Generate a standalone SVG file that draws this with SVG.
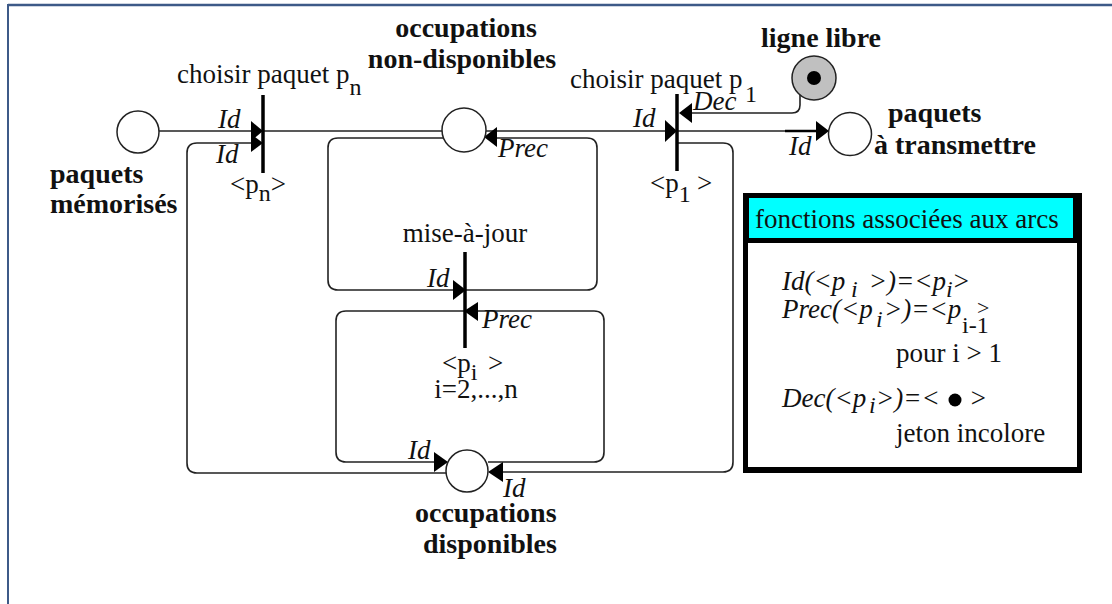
<svg xmlns="http://www.w3.org/2000/svg" width="1112" height="604" viewBox="0 0 1112 604">
<style>
text{font-family:"Liberation Serif","Times New Roman",serif;fill:#111}
.r{font-size:27px}
.b{font-size:28px;font-weight:bold}
.i{font-size:27px;font-style:italic}
.s{font-size:24px}
.place{fill:#fff;stroke:#222;stroke-width:1.5}
.bar{stroke:#000;stroke-width:3.5}
.arc{fill:none;stroke:#222;stroke-width:1.6}
.head{fill:#000}
</style>
<rect width="1112" height="604" fill="#fff"/>
<g id="frame">
<line x1="8" y1="5" x2="1112" y2="5" stroke="#3d5a88" stroke-width="2.5"/>
<line x1="8" y1="4" x2="8" y2="604" stroke="#3d5a88" stroke-width="2"/>
</g>
<g id="connectors">
<path class="arc" d="M159 131 H252"/>
<path class="arc" d="M263 131 H443"/>
<path class="arc" d="M486 131 H666"/>
<path class="arc" d="M677 131 H817"/>
<path d="M785 131 H817" stroke="#000" stroke-width="2.5"/>
<path class="arc" d="M800 95 V105 Q800 113 792 113 H692"/>
<path class="arc" d="M251 143 H197 Q187 143 187 153 V463 Q187 473 197 473 H446"/>
<path class="arc" d="M677 143 H723 Q733 143 733 153 V462 Q733 472 723 472 H503"/>
<path class="arc" d="M443 138 H338 Q328 138 328 148 V280 Q328 290 338 290 H453"/>
<path class="arc" d="M466 290 H587 Q597 290 597 280 V148 Q597 138 587 138 H497"/>
<path class="arc" d="M478 311 H594 Q604 311 604 321 V452 Q604 462 594 462 H488"/>
<path class="arc" d="M465 311 H346 Q336 311 336 321 V452 Q336 462 346 462 H434"/>
<polygon class="head" points="263,131 251,121 251,141"/>
<polygon class="head" points="263,143 251,134 251,152"/>
<polygon class="head" points="677,131 665,120 665,142"/>
<polygon class="head" points="679,113 692,103 692,123"/>
<polygon class="head" points="829,131 816,121 816,141"/>
<polygon class="head" points="484,137 497,127 497,147"/>
<polygon class="head" points="466,290 453,280 453,300"/>
<polygon class="head" points="464,311 478,302 478,321"/>
<polygon class="head" points="448,462 434,452 434,472"/>
<polygon class="head" points="488,472 503,462 503,482"/>
<text class="i" x="218" y="128">Id</text>
<text class="i" x="216" y="163">Id</text>
<text class="i" x="498" y="157">Prec</text>
<text class="i" x="633" y="127">Id</text>
<text class="i" x="693" y="110">Dec</text>
<text class="i" x="789" y="155">Id</text>
<text class="i" x="427" y="287">Id</text>
<text class="i" x="482" y="328">Prec</text>
<text class="i" x="408" y="459">Id</text>
<text class="i" x="503" y="497">Id</text>
</g>
<g id="paquets-memorises">
<circle class="place" cx="138" cy="132" r="21"/>
<text class="b" x="50" y="183">paquets</text>
<text class="b" x="50" y="213">mémorisés</text>
</g>
<g id="occupations-non-disponibles">
<circle class="place" cx="464" cy="130" r="22"/>
<text class="b" x="466" y="37" text-anchor="middle">occupations</text>
<text class="b" x="462" y="68" text-anchor="middle">non-disponibles</text>
</g>
<g id="ligne-libre">
<circle cx="814" cy="78" r="22" fill="#c0c0c0" stroke="#222" stroke-width="1.5"/>
<circle cx="814" cy="78" r="7" fill="#000"/>
<text class="b" x="761" y="47">ligne libre</text>
</g>
<g id="paquets-a-transmettre">
<circle class="place" cx="850" cy="134" r="21.5"/>
<text class="b" x="888" y="122">paquets</text>
<text class="b" x="874" y="154">à transmettre</text>
</g>
<g id="occupations-disponibles">
<circle class="place" cx="467" cy="471" r="21"/>
<text class="b" x="415" y="522">occupations</text>
<text class="b" x="423" y="553">disponibles</text>
</g>
<g id="choisir-pn">
<line class="bar" x1="263" y1="95" x2="263" y2="173"/>
<text class="r" x="177" y="83">choisir paquet p<tspan class="s" dy="12">n</tspan></text>
<text class="r" x="230" y="193">&lt;p<tspan class="s" dy="8">n</tspan><tspan dy="-8">&gt;</tspan></text>
</g>
<g id="choisir-p1">
<line class="bar" x1="677" y1="94" x2="677" y2="171"/>
<text class="r" x="570" y="88">choisir paquet p<tspan class="s" x="745" dy="14">1</tspan></text>
<text class="r" x="650" y="192">&lt;p<tspan class="s" dy="10">1</tspan><tspan x="697" dy="-10">&gt;</tspan></text>
</g>
<g id="mise-a-jour">
<line class="bar" x1="465" y1="252" x2="465" y2="348"/>
<text class="r" x="465" y="242" text-anchor="middle">mise-à-jour</text>
<text class="r" x="442" y="372">&lt;p<tspan class="s" dy="8">i</tspan><tspan x="488" dy="-8">&gt;</tspan></text>
<text class="r" x="476" y="398" text-anchor="middle">i=2,...,n</text>
</g>
<g id="legende">
<rect x="743" y="193" width="339" height="280" fill="#000"/>
<rect x="749" y="198" width="324" height="40" fill="#00ffff"/>
<rect x="748" y="243" width="329" height="224" fill="#fff"/>
<text class="r" x="755" y="228">fonctions associées aux arcs</text>
<text class="i" x="782" y="290">Id(&lt;p<tspan class="s" x="851" dy="7">i</tspan><tspan x="862" dy="-7"> &gt;)=&lt;p</tspan><tspan class="s" x="946" dy="7">i</tspan><tspan x="952" dy="-7">&gt;</tspan></text>
<text class="i" x="782" y="318">Prec(&lt;p<tspan class="s" x="876" dy="9">i</tspan><tspan x="884" dy="-9">&gt;)=&lt;p</tspan></text>
<text class="r" x="962" y="333" style="font-size:24px">i-1</text>
<text class="r" x="977" y="315" style="font-size:22px">&gt;</text>
<text class="r" x="896" y="362">pour i &gt; 1</text>
<text class="i" x="782" y="407">Dec(&lt;p<tspan class="s" x="869" dy="6">i</tspan><tspan x="876" dy="-6">&gt;)=&lt;</tspan><tspan x="969">&gt;</tspan></text>
<circle cx="955" cy="400" r="6.5" fill="#000"/>
<text class="r" x="896" y="442">jeton incolore</text>
</g>
</svg>
